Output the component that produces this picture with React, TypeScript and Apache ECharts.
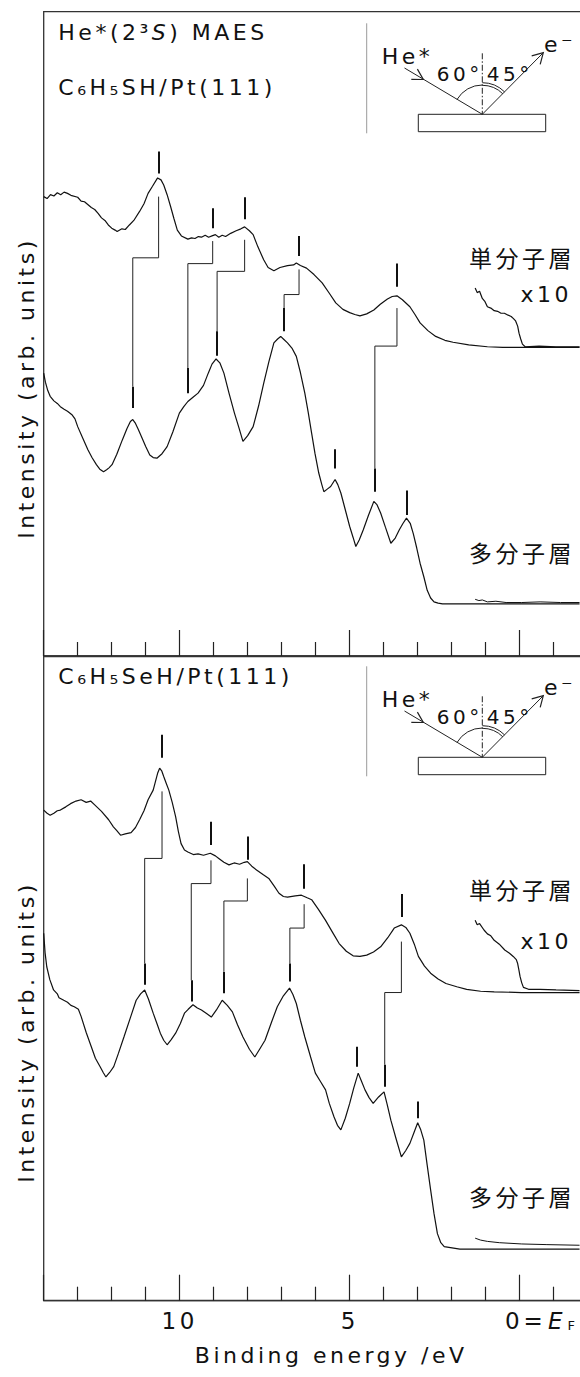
import React, { useEffect, useRef } from 'react';
import * as echarts from 'echarts';

const FONT = "'DejaVu Sans', 'Noto Sans', sans-serif";
const JFONT = "'Noto Sans CJK JP', sans-serif";
const INK = '#111';

// x: binding energy (eV), y: intensity (arb. units, 0-100 per panel)
const xTickValues = [10, 5, 0];
const xTickLabels = ['10', '5', '0'];

// ---------- Panel 1: C6H5SH/Pt(111) ----------
const mono1: number[][] = [
  [14.0, 71.3], [13.9, 71.0], [13.8, 71.6], [13.7, 71.4], [13.6, 71.9], [13.5, 71.6], [13.4, 72.0], [13.3, 71.8],
  [13.2, 71.5], [13.0, 71.2], [12.9, 70.6], [12.8, 70.5], [12.6, 69.6], [12.5, 69.3], [12.4, 68.7], [12.3, 68.0],
  [12.2, 67.6], [12.1, 66.9], [12.0, 66.4], [11.9, 66.1], [11.84, 65.9], [11.7, 66.3], [11.6, 66.2], [11.48, 66.9],
  [11.35, 67.6], [11.18, 69.0], [11.05, 70.2], [10.93, 71.8], [10.8, 72.9], [10.65, 74.2], [10.55, 73.9], [10.47, 73.1],
  [10.37, 71.6], [10.27, 69.8], [10.17, 67.9], [10.07, 66.1], [9.95, 65.2], [9.76, 64.7], [9.65, 64.9], [9.55, 64.8],
  [9.45, 65.1], [9.36, 65.0], [9.25, 65.3], [9.15, 65.0], [9.05, 65.2], [8.95, 65.4], [8.85, 65.0], [8.75, 65.3],
  [8.65, 65.1], [8.5, 65.6], [8.34, 66.0], [8.2, 66.3], [8.09, 66.6], [7.95, 66.0], [7.84, 65.4], [7.7, 63.5],
  [7.53, 61.5], [7.4, 60.3], [7.23, 59.8], [7.05, 60.3], [6.83, 60.6], [6.65, 60.7], [6.57, 61.0], [6.45, 60.6],
  [6.27, 60.2], [6.05, 59.2], [5.81, 57.9], [5.6, 56.3], [5.41, 54.8], [5.2, 53.8], [5.0, 53.3], [4.85, 53.0],
  [4.7, 52.8], [4.5, 53.1], [4.29, 53.7], [4.1, 54.6], [3.89, 55.4], [3.75, 55.8], [3.61, 55.9], [3.45, 55.3],
  [3.23, 54.2], [3.08, 53.0], [2.93, 51.7], [2.7, 50.5], [2.47, 49.6], [2.2, 49.0], [1.96, 48.7], [1.5, 48.3],
  [0.95, 48.0], [0.5, 47.9], [-0.06, 47.9], [-1.76, 47.9],
];
const mono1x10: number[][] = [
  [1.31, 57.1], [1.25, 56.4], [1.18, 56.6], [1.1, 55.5], [1.02, 55.0], [0.95, 54.2], [0.85, 54.0], [0.75, 53.6],
  [0.65, 53.5], [0.55, 53.2], [0.45, 53.2], [0.34, 52.9], [0.25, 52.7], [0.19, 52.4], [0.12, 52.0], [0.06, 51.2],
  [0.02, 50.1], [-0.03, 49.2], [-0.08, 48.4], [-0.16, 48.0], [-0.57, 48.1], [-1.07, 48.0], [-1.76, 48.0],
];
const multi1: number[][] = [
  [14.0, 43.9], [13.95, 42.5], [13.88, 41.2], [13.81, 40.3], [13.7, 39.6], [13.6, 39.2], [13.51, 38.7], [13.4, 38.3],
  [13.3, 38.0], [13.16, 37.4], [13.08, 36.8], [13.0, 35.6], [12.85, 33.8], [12.7, 32.0], [12.58, 30.8], [12.45, 29.7],
  [12.35, 29.0], [12.24, 28.6], [12.15, 28.9], [12.08, 29.2], [11.99, 29.7], [11.85, 31.3], [11.69, 33.5], [11.55, 35.3],
  [11.45, 36.4], [11.38, 36.7], [11.3, 36.1], [11.22, 35.2], [11.13, 34.1], [11.0, 32.5], [10.88, 31.2], [10.78, 30.8],
  [10.67, 30.7], [10.52, 31.4], [10.37, 32.5], [10.2, 34.8], [10.01, 37.7], [9.88, 38.7], [9.76, 39.5], [9.6, 40.2],
  [9.46, 40.8], [9.3, 42.0], [9.16, 43.9], [9.05, 45.3], [8.93, 46.1], [8.82, 45.5], [8.7, 43.9], [8.55, 40.8],
  [8.39, 37.7], [8.25, 35.3], [8.14, 33.3], [8.0, 34.2], [7.84, 35.6], [7.68, 38.8], [7.53, 42.3], [7.38, 45.6],
  [7.23, 48.6], [7.12, 49.2], [7.03, 49.6], [6.95, 49.2], [6.83, 48.6], [6.7, 47.8], [6.57, 46.5], [6.45, 44.0],
  [6.32, 40.8], [6.22, 37.8], [6.12, 34.6], [6.02, 31.4], [5.91, 28.4], [5.82, 26.6], [5.76, 25.5], [5.66, 25.9],
  [5.56, 26.3], [5.43, 27.4], [5.35, 26.6], [5.26, 25.3], [5.13, 22.7], [5.0, 20.1], [4.9, 18.4], [4.82, 17.0],
  [4.72, 18.0], [4.6, 19.6], [4.45, 21.8], [4.29, 24.0], [4.2, 23.5], [4.09, 22.2], [3.95, 20.0], [3.79, 17.5],
  [3.66, 18.3], [3.54, 19.6], [3.43, 20.6], [3.33, 21.4], [3.22, 20.6], [3.13, 19.0], [3.03, 16.8], [2.93, 14.4],
  [2.82, 12.3], [2.72, 10.2], [2.62, 9.0], [2.52, 8.4], [2.4, 8.2], [2.27, 8.1], [-1.76, 8.1],
];
const multi1x10: number[][] = [
  [1.31, 8.8], [1.2, 8.6], [1.1, 8.7], [0.95, 8.4], [0.7, 8.5], [0.4, 8.3], [-0.06, 8.3], [-0.6, 8.4], [-1.2, 8.3], [-1.76, 8.3],
];
// peak markers [x, yLow, yHigh]
const monoBars1: number[][] = [[10.62, 74.9, 78.3], [9.03, 66.4, 69.5], [8.09, 67.8, 71.2], [6.49, 62.1, 65.2], [3.61, 57.3, 60.9]];
const multiBars1: number[][] = [
  [11.38, 38.5, 41.8], [9.76, 40.8, 44.7], [8.9, 46.6, 50.4], [6.93, 50.4, 54.0], [4.26, 25.5, 29.1], [5.43, 29.1, 32.1], [3.33, 21.9, 25.7],
];
// correlation connectors
const links1: number[][][] = [
  [[10.62, 71.3], [10.62, 61.8], [11.38, 61.8], [11.38, 41.8]],
  [[9.03, 64.4], [9.03, 60.9], [9.76, 60.9], [9.76, 44.7]],
  [[8.09, 64.6], [8.09, 59.7], [8.9, 59.7], [8.9, 50.4]],
  [[6.49, 60.0], [6.49, 56.1], [6.93, 56.1], [6.93, 54.0]],
  [[3.61, 54.0], [3.61, 48.1], [4.26, 48.1], [4.26, 29.1]],
];

// ---------- Panel 2: C6H5SeH/Pt(111) ----------
const mono2: number[][] = [
  [14.0, 76.1], [13.9, 75.6], [13.81, 75.3], [13.7, 75.6], [13.6, 76.0], [13.51, 76.1], [13.35, 76.6], [13.21, 77.1],
  [13.05, 77.5], [12.9, 77.7], [12.75, 77.3], [12.62, 77.5], [12.5, 76.9], [12.3, 75.9], [12.09, 74.6], [11.95, 73.5],
  [11.85, 72.9], [11.74, 72.2], [11.6, 72.4], [11.43, 72.6], [11.3, 73.4], [11.18, 74.6], [11.05, 76.0], [10.93, 77.7],
  [10.78, 79.2], [10.65, 81.8], [10.59, 82.6], [10.53, 82.2], [10.47, 81.3], [10.4, 80.3], [10.32, 79.2], [10.22, 77.3],
  [10.12, 75.1], [10.04, 72.8], [9.96, 70.9], [9.86, 69.9], [9.76, 69.6], [9.6, 69.2], [9.46, 69.3], [9.3, 69.1],
  [9.1, 69.4], [8.95, 69.0], [8.85, 68.6], [8.7, 68.0], [8.55, 67.6], [8.4, 67.9], [8.24, 67.7], [8.1, 68.0],
  [8.01, 68.1], [7.88, 67.4], [7.74, 66.8], [7.55, 66.1], [7.38, 65.5], [7.22, 64.3], [7.08, 63.2], [6.95, 62.7],
  [6.83, 62.6], [6.6, 62.8], [6.42, 62.9], [6.25, 62.5], [6.12, 62.2], [5.92, 60.7], [5.71, 59.0], [5.5, 57.1],
  [5.31, 55.4], [5.1, 54.2], [4.9, 53.5], [4.7, 53.4], [4.5, 53.6], [4.3, 54.1], [4.09, 54.9], [3.88, 56.3],
  [3.69, 57.8], [3.48, 58.3], [3.35, 57.9], [3.23, 57.0], [3.1, 55.3], [2.98, 53.4], [2.8, 51.9], [2.62, 50.8],
  [2.4, 49.9], [2.17, 49.2], [1.85, 48.7], [1.56, 48.3], [1.15, 48.0], [0.75, 47.9], [-0.06, 47.8], [-1.76, 47.8],
];
const mono2x10: number[][] = [
  [1.31, 59.0], [1.25, 58.3], [1.18, 58.5], [1.05, 57.5], [0.95, 56.9], [0.85, 56.6], [0.75, 55.9], [0.6, 55.3],
  [0.44, 54.4], [0.3, 53.9], [0.19, 53.4], [0.1, 52.9], [0.06, 52.3], [0.02, 51.2], [-0.01, 50.3], [-0.06, 49.3],
  [-0.11, 48.6], [-0.26, 48.3], [-0.6, 48.3], [-1.07, 48.2], [-1.76, 48.1],
];
const multi2: number[][] = [
  [14.0, 57.0], [13.96, 54.0], [13.91, 51.8], [13.82, 49.8], [13.71, 48.2], [13.6, 47.6], [13.55, 47.0], [13.41, 46.6],
  [13.3, 46.3], [13.2, 45.8], [13.1, 45.6], [12.98, 45.2], [12.9, 44.1], [12.75, 41.6], [12.6, 39.4], [12.48, 37.6],
  [12.34, 36.3], [12.25, 35.4], [12.17, 34.7], [12.06, 35.4], [11.94, 36.3], [11.8, 38.4], [11.64, 40.9], [11.45, 43.9],
  [11.28, 46.6], [11.15, 47.6], [11.03, 48.2], [10.92, 46.8], [10.78, 44.6], [10.67, 43.0], [10.57, 41.5], [10.47, 40.4],
  [10.37, 39.7], [10.25, 40.5], [10.12, 41.5], [9.98, 43.0], [9.86, 44.6], [9.75, 45.2], [9.61, 45.9], [9.48, 45.4],
  [9.36, 45.1], [9.2, 44.5], [9.07, 44.0], [8.92, 45.1], [8.75, 46.6], [8.6, 45.8], [8.45, 44.8], [8.3, 42.8],
  [8.14, 40.9], [7.95, 39.0], [7.79, 37.8], [7.65, 39.0], [7.49, 40.4], [7.3, 43.2], [7.13, 45.6], [6.95, 47.3],
  [6.77, 48.5], [6.67, 47.5], [6.57, 46.1], [6.45, 43.5], [6.32, 40.9], [6.15, 37.8], [6.01, 35.3], [5.86, 34.0],
  [5.71, 32.7], [5.6, 30.6], [5.46, 28.5], [5.36, 27.2], [5.26, 26.5], [5.13, 28.3], [5.0, 30.6], [4.88, 33.0],
  [4.75, 35.3], [4.65, 34.0], [4.55, 32.7], [4.43, 31.5], [4.31, 30.6], [4.15, 31.6], [3.99, 32.4], [3.9, 30.5],
  [3.79, 28.0], [3.63, 25.0], [3.48, 22.3], [3.35, 23.3], [3.23, 24.4], [3.1, 26.2], [3.0, 27.6], [2.91, 26.5],
  [2.82, 24.9], [2.72, 21.0], [2.62, 17.2], [2.52, 13.5], [2.42, 10.4], [2.32, 9.0], [2.22, 8.4], [1.76, 8.0], [-1.76, 8.0],
];
const multi2x10: number[][] = [
  [1.31, 9.7], [1.15, 9.4], [0.95, 9.2], [0.6, 9.0], [-0.06, 8.8], [-0.8, 8.7], [-1.76, 8.6],
];
const monoBars2: number[][] = [[10.52, 84.2, 87.8], [9.08, 70.7, 74.3], [8.01, 68.4, 72.0], [6.34, 63.9, 67.7], [3.48, 59.5, 63.1]];
const multiBars2: number[][] = [
  [11.03, 49.0, 52.3], [9.66, 46.4, 49.7], [8.7, 47.7, 51.0], [6.76, 49.5, 52.3], [3.97, 33.2, 36.6], [4.78, 36.3, 39.4], [3.0, 28.3, 30.9],
];
const links2: number[][][] = [
  [[10.52, 79.0], [10.52, 68.6], [11.03, 68.6], [11.03, 52.3]],
  [[9.08, 68.3], [9.08, 64.7], [9.66, 64.7], [9.66, 49.7]],
  [[8.01, 65.5], [8.01, 62.0], [8.7, 62.0], [8.7, 51.0]],
  [[6.34, 61.5], [6.34, 57.8], [6.76, 57.8], [6.76, 52.3]],
  [[3.48, 55.7], [3.48, 47.8], [3.97, 47.8], [3.97, 36.6]],
];

// ---------- layout ----------
const CHART_W = 700; // wider than the window; the part right of -1.8 eV is clipped
const GRID_LEFT = 43.7;
const GRID_W = 646; // 34 px per eV from 14 to -5
const P1_TOP = 11.7;
const P2_TOP = 656;
const P_H = 644.7;
const LS = 3.5; // letter spacing applied via CSS

function lineSeries(data: number[][], idx: number, width = 1.2) {
  return {
    type: 'line', xAxisIndex: idx, yAxisIndex: idx, data, showSymbol: false, symbol: 'none',
    lineStyle: { color: INK, width }, silent: true, z: 3,
  };
}
function barsSeries(bars: number[][], idx: number) {
  return {
    type: 'lines', coordinateSystem: 'cartesian2d', xAxisIndex: idx, yAxisIndex: idx, silent: true, z: 4,
    data: bars.map(([x, a, b]) => ({ coords: [[x, a], [x, b]] })),
    lineStyle: { color: INK, width: 2, opacity: 1 },
  };
}
function linksSeries(links: number[][][], idx: number) {
  return {
    type: 'lines', coordinateSystem: 'cartesian2d', polyline: true, xAxisIndex: idx, yAxisIndex: idx, silent: true, z: 4,
    data: links.map((c) => ({ coords: c })),
    lineStyle: { color: '#222', width: 1, opacity: 1 },
  };
}

function txt(text: string, x: number, y: number, opts: any = {}) {
  return {
    type: 'text', silent: true, x, y, rotation: opts.rotation || 0,
    style: {
      text, fontSize: opts.fontSize || 22, fontFamily: opts.fontFamily || FONT, fill: INK,
      fontStyle: opts.fontStyle || 'normal',
      align: opts.align || 'left', verticalAlign: 'middle',
    },
  };
}

function inset(dy: number): any[] {
  const ax = 482.3, ay = 114.3 + dy;
  const deg = Math.PI / 180;
  const ln = (x1: number, y1: number, x2: number, y2: number, extra: any = {}) => ({
    type: 'line', silent: true, shape: { x1, y1, x2, y2 }, style: { stroke: '#222', lineWidth: 1, ...extra },
  });
  return [
    ln(366.7, 23.3 + dy, 366.7, 133.3 + dy, { stroke: '#9a9a9a' }),
    { type: 'rect', silent: true, shape: { x: 418.3, y: 114.3 + dy, width: 127.4, height: 17.4 }, style: { fill: 'none', stroke: '#222', lineWidth: 1 } },
    ln(404.5, 68 + dy, ax, ay),
    { type: 'polyline', silent: true, shape: { points: [[411.3, 79.4 + dy], [423.3, 79.5 + dy], [417.4, 69.1 + dy]] }, style: { fill: 'none', stroke: '#222', lineWidth: 1.2 } },
    ln(ax, ay, 543.3, 52.7 + dy),
    { type: 'polyline', silent: true, shape: { points: [[531.7, 55.8 + dy], [543.3, 52.7 + dy], [540.2, 64.3 + dy]] }, style: { fill: 'none', stroke: '#222', lineWidth: 1.2 } },
    ln(ax, 53.3 + dy, ax, ay, { lineDash: [6, 2, 1.5, 2] }),
    { type: 'arc', silent: true, shape: { cx: ax, cy: ay, r: 29.3, startAngle: 210.5 * deg, endAngle: 270 * deg, clockwise: true }, style: { fill: 'none', stroke: '#222', lineWidth: 1 } },
    { type: 'arc', silent: true, shape: { cx: ax, cy: ay, r: 29.0, startAngle: 270 * deg, endAngle: 315 * deg, clockwise: true }, style: { fill: 'none', stroke: '#222', lineWidth: 1 } },
    { type: 'arc', silent: true, shape: { cx: ax, cy: ay, r: 31.6, startAngle: 270 * deg, endAngle: 315 * deg, clockwise: true }, style: { fill: 'none', stroke: '#222', lineWidth: 1 } },
    txt('He*', 381.7, 56 + dy, { fontSize: 22 }),
    txt('60°', 436.7, 73.5 + dy, { fontSize: 20 }),
    txt('45°', 486.7, 73.5 + dy, { fontSize: 20 }),
    txt('e⁻', 544, 44 + dy, { fontSize: 22 }),
  ];
}

function buildOption(): any {
  const xBase = (idx: number) => ({
    type: 'value', gridIndex: idx, inverse: true, min: -5, max: 14, interval: 5,
    axisLine: { show: true, onZero: false, lineStyle: { color: '#333', width: 1.3 } },
    axisTick: { show: true, inside: true, length: 26, lineStyle: { color: '#222', width: 1.2 } },
    minorTick: { show: true, splitNumber: 5, length: 14, lineStyle: { color: '#222', width: 1.2 } },
    splitLine: { show: false }, minorSplitLine: { show: false },
  });
  const yBase = (idx: number) => ({
    type: 'value', gridIndex: idx, min: 0, max: 100, show: false, splitLine: { show: false },
  });
  const richTick = {
    pad: { width: 44, fontSize: 23, lineHeight: 26 },
    n: { fontSize: 23, fontFamily: FONT, color: INK, lineHeight: 26 },
    eq: { fontSize: 23, fontFamily: FONT, color: INK, lineHeight: 26, padding: [0, 0, 0, 4] },
    e: { fontSize: 23, fontFamily: FONT, color: INK, fontStyle: 'italic', lineHeight: 26, padding: [0, 0, 0, 5] },
    f: { fontSize: 13, fontFamily: FONT, color: INK, lineHeight: 13, padding: [9, 0, 0, 5] },
  };
  // He*(2³S) MAES split so the italic S sits correctly with CSS letter spacing
  const he1 = 'He*(2³';
  const heW = (0.752 + 0.615 + 0.5 + 0.39 + 0.636 + 0.401) * 22 + 6 * LS;
  const sW = 0.635 * 22 + LS;
  return {
    animation: false,
    backgroundColor: '#fff',
    grid: [
      { left: GRID_LEFT, top: P1_TOP, width: GRID_W, height: P2_TOP - P1_TOP, show: true, borderColor: '#333', borderWidth: 1.3, backgroundColor: 'transparent' },
      { left: GRID_LEFT, top: P2_TOP, width: GRID_W, height: P_H, show: true, borderColor: '#333', borderWidth: 1.3, backgroundColor: 'transparent' },
    ],
    xAxis: [
      { ...xBase(0), axisLabel: { show: false } },
      {
        ...xBase(1),
        name: 'Binding energy /eV', nameLocation: 'middle', nameGap: 44,
        nameTextStyle: { fontSize: 22, fontFamily: FONT, color: INK, padding: [0, 71, 0, 0] },
        axisLabel: {
          show: true, margin: 7, fontSize: 23, fontFamily: FONT, color: INK, lineHeight: 26,
          formatter: (v: number) => {
            const i = xTickValues.indexOf(v);
            if (i < 0) return '';
            if (v === 0) return `{pad| }{n|${xTickLabels[i]}}{eq|=}{e|E}{f|F}`;
            return xTickLabels[i];
          },
          rich: richTick,
        },
      },
    ],
    yAxis: [yBase(0), yBase(1)],
    series: [
      lineSeries(mono1, 0), lineSeries(mono1x10, 0), lineSeries(multi1, 0), lineSeries(multi1x10, 0, 1),
      barsSeries(monoBars1, 0), barsSeries(multiBars1, 0), linksSeries(links1, 0),
      lineSeries(mono2, 1), lineSeries(mono2x10, 1), lineSeries(multi2, 1), lineSeries(multi2x10, 1, 1),
      barsSeries(monoBars2, 1), barsSeries(multiBars2, 1), linksSeries(links2, 1),
    ],
    graphic: [
      ...inset(0),
      ...inset(643),
      txt(he1, 58.3, 32.5),
      txt('S', 58.3 + heW, 32.5, { fontStyle: 'italic' }),
      txt(') MAES', 58.3 + heW + sW, 32.5),
      txt('C₆H₅SH/Pt(111)', 58.3, 87.5),
      txt('C₆H₅SeH/Pt(111)', 58.3, 676),
      txt('Intensity (arb. units)', 26, 388, { rotation: Math.PI / 2, align: 'center', fontSize: 22 }),
      txt('Intensity (arb. units)', 26, 1032, { rotation: Math.PI / 2, align: 'center', fontSize: 22 }),
      txt('単分子層', 575, 256.7, { fontFamily: JFONT, align: 'right', fontSize: 23 }),
      txt('x10', 572, 294, { align: 'right', fontSize: 22 }),
      txt('多分子層', 575, 551.7, { fontFamily: JFONT, align: 'right', fontSize: 23 }),
      txt('単分子層', 575, 889, { fontFamily: JFONT, align: 'right', fontSize: 23 }),
      txt('x10', 572, 941, { align: 'right', fontSize: 22 }),
      txt('多分子層', 575, 1196, { fontFamily: JFONT, align: 'right', fontSize: 23 }),
    ],
  };
}

export default function App() {
  const ref = useRef<HTMLDivElement>(null);
  useEffect(() => {
    document.body.style.margin = '0';
    const chart = echarts.init(ref.current!, null, { renderer: 'svg' });
    chart.setOption(buildOption());
    return () => chart.dispose();
  }, []);
  return (
    <div style={{ width: 580, height: 1377, overflow: 'hidden', position: 'relative', background: '#fff' }}>
      <style>{`svg text { letter-spacing: ${LS}px; }`}</style>
      <div ref={ref} style={{ width: CHART_W, height: 1377 }} />
    </div>
  );
}
